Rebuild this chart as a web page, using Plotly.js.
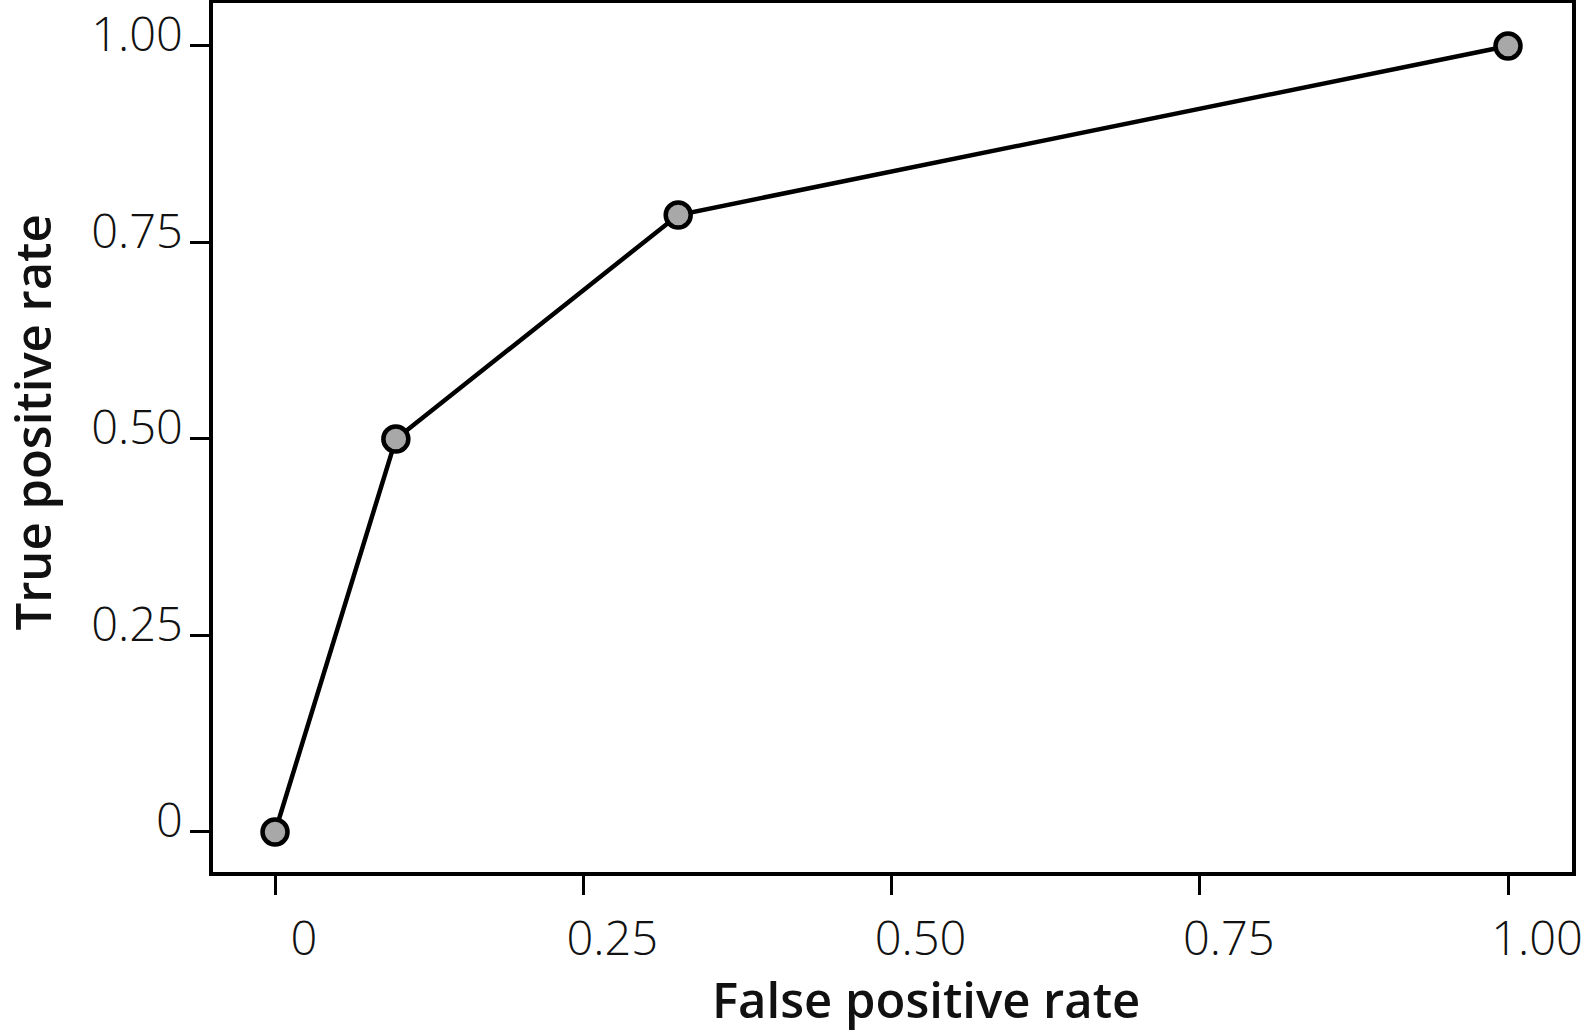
<!DOCTYPE html>
<html>
<head>
<meta charset="utf-8">
<script src="https://cdn.plot.ly/plotly-3.0.1.min.js"></script>
<style>html,body{margin:0;padding:0;background:#fff;}#chart{width:1592px;height:1035px;}</style>
</head>
<body>
<div id="chart"></div>
<script>
const falsePositiveRate = [0, 0.098, 0.327, 1.0];
const truePositiveRate = [0, 0.5, 0.785, 1.0];
const tickValues = [0, 0.25, 0.5, 0.75, 1.0];
const tickLabels = ["0", "0.25", "0.50", "0.75", "1.00"];
const xTitle = "False positive rate";
const yTitle = "True positive rate";

const tickFont = {family: "Open Sans", size: 47, color: "#111", weight: 300};
const titleFont = {family: "Open Sans", size: 49, color: "#111", weight: 600};

const trace = {
  x: falsePositiveRate,
  y: truePositiveRate,
  type: "scatter",
  mode: "lines+markers",
  line: {color: "#000", width: 4.5},
  marker: {size: 25, color: "#a8a8a8", line: {color: "#000", width: 4.5}},
  hoverinfo: "x+y"
};

const axisCommon = {
  tickvals: tickValues,
  ticktext: tickLabels,
  ticks: "outside",
  ticklen: 19,
  tickwidth: 3,
  tickcolor: "#000",
  showline: true,
  linewidth: 3.5,
  linecolor: "#000",
  mirror: true,
  showgrid: false,
  zeroline: false,
  tickfont: tickFont,
  automargin: false
};

const layout = {
  width: 1592,
  height: 1035,
  margin: {l: 213, r: 20, t: 3, b: 163},
  paper_bgcolor: "#fff",
  plot_bgcolor: "#fff",
  showlegend: false,
  xaxis: Object.assign({}, axisCommon, {
    range: [-0.0503, 1.0519],
    ticklabelshift: 29,
    ticklabelstandoff: 4
  }),
  yaxis: Object.assign({}, axisCommon, {
    range: [-0.0509, 1.0547],
    ticklabelshift: -11,
    ticklabelstandoff: -2
  }),
  annotations: [
    {
      text: xTitle, font: titleFont, showarrow: false,
      xref: "paper", yref: "paper", x: 0.5, y: 0,
      xanchor: "center", yanchor: "middle",
      xshift: 33, yshift: -127
    },
    {
      text: yTitle, font: titleFont, showarrow: false, textangle: -90,
      xref: "paper", yref: "paper", x: 0, y: 0.5,
      xanchor: "center", yanchor: "middle",
      xshift: -182, yshift: 15
    }
  ]
};

Plotly.newPlot("chart", [trace], layout, {displayModeBar: false});
</script>
</body>
</html>
